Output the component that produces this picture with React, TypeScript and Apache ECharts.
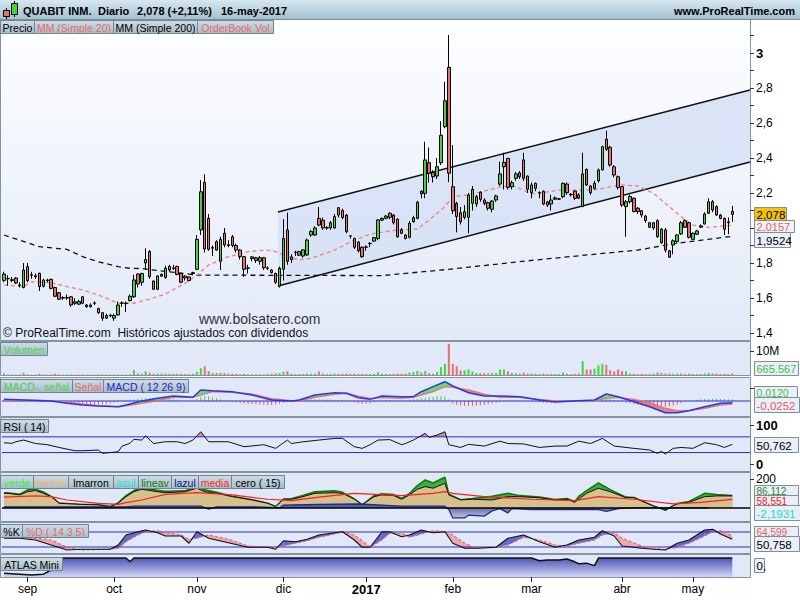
import React, { useEffect, useRef } from "react";
import * as echarts from "echarts";

// ---------- DATA ----------
// candles: [open, close, low, high], daily, 24-ago-2016 .. 16-may-2017
const candles: number[][] = [
  [1.700,1.737,1.690,1.750],[1.710,1.712,1.670,1.730],[1.700,1.705,1.690,1.720],[1.714,1.686,1.680,1.720],[1.675,1.673,1.660,1.690],[1.660,1.760,1.655,1.800],[1.779,1.700,1.690,1.800],[1.730,1.733,1.710,1.750],[1.722,1.727,1.710,1.740],[1.741,1.665,1.640,1.745],
  [1.667,1.703,1.660,1.710],[1.700,1.702,1.690,1.710],[1.707,1.655,1.650,1.710],[1.660,1.610,1.605,1.665],[1.630,1.593,1.590,1.635],[1.600,1.602,1.590,1.610],[1.600,1.603,1.590,1.620],[1.607,1.560,1.550,1.610],[1.570,1.578,1.560,1.600],[1.565,1.580,1.560,1.590],
  [1.607,1.570,1.565,1.610],[1.550,1.560,1.545,1.565],[1.560,1.550,1.545,1.570],[1.570,1.572,1.560,1.580],[1.540,1.516,1.510,1.545],[1.516,1.484,1.470,1.520],[1.485,1.500,1.480,1.510],[1.502,1.498,1.490,1.510],[1.485,1.500,1.470,1.510],[1.503,1.560,1.500,1.580],
  [1.570,1.572,1.550,1.580],[1.568,1.570,1.520,1.580],[1.585,1.610,1.580,1.620],[1.607,1.703,1.600,1.733],[1.737,1.680,1.660,1.740],[1.690,1.740,1.670,1.745],[1.800,1.820,1.760,1.884],[1.865,1.722,1.710,1.874],[1.697,1.650,1.645,1.700],[1.650,1.726,1.645,1.730],
  [1.735,1.725,1.720,1.740],[1.718,1.770,1.710,1.785],[1.780,1.760,1.750,1.790],[1.770,1.772,1.760,1.790],[1.780,1.735,1.730,1.785],[1.740,1.690,1.685,1.745],[1.715,1.725,1.700,1.730],[1.720,1.700,1.695,1.725],[1.740,1.745,1.730,1.750],[1.764,1.935,1.760,1.960],
  [1.989,2.207,1.960,2.274],[2.261,1.880,1.860,2.307],[2.055,1.878,1.870,2.080],[1.885,1.888,1.840,1.900],[1.922,1.874,1.870,1.930],[1.810,1.935,1.760,1.950],[1.970,1.903,1.890,2.000],[1.905,1.900,1.890,1.930],[1.950,1.900,1.890,1.960],[1.900,1.874,1.860,1.910],
  [1.874,1.836,1.820,1.880],[1.836,1.764,1.720,1.840],[1.770,1.772,1.740,1.790],[1.825,1.835,1.810,1.840],[1.830,1.815,1.800,1.835],[1.810,1.830,1.790,1.840],[1.830,1.773,1.760,1.835],[1.770,1.772,1.760,1.780],[1.760,1.745,1.740,1.765],[1.740,1.690,1.680,1.745],
  [1.668,1.770,1.660,1.780],[1.764,1.940,1.700,2.050],[1.989,1.810,1.790,2.087],[1.820,1.835,1.800,1.850],[1.860,1.862,1.840,1.870],[1.865,1.845,1.840,1.870],[1.840,1.875,1.830,1.880],[1.846,1.931,1.840,1.940],[1.960,1.980,1.950,1.990],[1.960,2.000,1.955,2.010],
  [2.055,2.017,2.010,2.120],[2.045,2.000,1.990,2.060],[2.000,2.002,1.990,2.010],[2.000,2.030,1.990,2.040],[2.000,2.065,1.995,2.080],[2.116,2.074,2.060,2.120],[2.100,2.060,2.050,2.110],[2.074,1.979,1.970,2.080],[1.955,1.953,1.940,1.960],[1.940,1.890,1.880,1.945],
  [1.920,1.870,1.860,1.925],[1.890,1.836,1.830,1.895],[1.890,1.892,1.870,1.900],[1.910,1.912,1.890,1.920],[1.925,1.945,1.920,1.950],[1.940,2.046,1.930,2.050],[2.045,2.055,2.040,2.060],[2.055,2.068,2.050,2.075],[2.084,2.061,2.050,2.090],[2.074,2.030,2.020,2.080],
  [2.050,1.950,1.945,2.055],[1.990,1.970,1.965,2.000],[1.960,1.940,1.935,1.965],[1.947,2.027,1.940,2.040],[2.036,2.059,2.030,2.070],[2.055,2.147,2.050,2.155],[2.210,2.196,2.170,2.215],[2.198,2.389,2.170,2.493],[2.373,2.313,2.260,2.460],[2.316,2.293,2.260,2.330],
  [2.297,2.350,2.280,2.400],[2.373,2.530,2.360,2.610],[2.579,2.727,2.570,2.836],[2.918,2.313,2.262,3.103],[2.236,2.099,2.080,2.474],[2.141,2.065,1.975,2.150],[2.087,2.036,2.020,2.120],[2.061,2.093,2.050,2.130],[2.061,2.189,1.970,2.200],[2.141,2.221,2.100,2.240],
  [2.137,2.179,2.120,2.190],[2.204,2.164,2.150,2.210],[2.160,2.141,2.130,2.170],[2.145,2.113,2.100,2.150],[2.107,2.154,2.090,2.160],[2.160,2.183,2.150,2.190],[2.251,2.309,2.240,2.379],[2.350,2.375,2.220,2.430],[2.398,2.232,2.220,2.400],[2.236,2.259,2.220,2.270],
  [2.284,2.309,2.270,2.320],[2.315,2.293,2.280,2.325],[2.389,2.284,2.270,2.430],[2.297,2.221,2.200,2.300],[2.202,2.246,2.170,2.260],[2.255,2.227,2.210,2.260],[2.200,2.202,2.170,2.210],[2.210,2.137,2.130,2.215],[2.149,2.131,2.120,2.155],[2.137,2.160,2.100,2.190],
  [2.165,2.172,2.160,2.180],[2.165,2.167,2.160,2.170],[2.179,2.255,2.170,2.260],[2.251,2.202,2.190,2.260],[2.190,2.192,2.180,2.200],[2.211,2.170,2.160,2.215],[2.190,2.170,2.165,2.200],[2.122,2.309,2.120,2.430],[2.335,2.246,2.240,2.340],[2.240,2.202,2.190,2.245],
  [2.227,2.255,2.220,2.270],[2.270,2.332,2.260,2.340],[2.332,2.465,2.330,2.470],[2.507,2.450,2.440,2.556],[2.461,2.360,2.350,2.470],[2.350,2.303,2.290,2.360],[2.293,2.232,2.220,2.300],[2.236,2.131,2.120,2.240],[2.122,2.150,1.950,2.160],[2.150,2.180,2.140,2.190],
  [2.170,2.094,2.090,2.175],[2.113,2.094,2.080,2.120],[2.099,2.074,2.060,2.100],[2.068,2.042,2.030,2.075],[2.030,2.004,2.000,2.035],[2.000,2.030,1.990,2.035],[2.042,1.950,1.945,2.050],[1.916,1.993,1.910,2.000],[1.989,1.874,1.860,2.000],[1.870,1.833,1.830,1.875],
  [1.903,1.927,1.850,1.935],[1.922,1.960,1.915,1.965],[1.966,2.030,1.960,2.040],[2.042,2.004,2.000,2.050],[2.030,1.947,1.940,2.035],[1.935,1.970,1.930,1.975],[1.964,1.983,1.960,1.990],[2.005,2.012,2.000,2.020],[2.023,2.080,2.020,2.090],[2.084,2.150,2.080,2.170],
  [2.150,2.103,2.090,2.160],[2.122,2.074,2.070,2.130],[2.074,2.055,2.050,2.080],[2.055,1.993,1.960,2.060],[2.030,2.035,1.965,2.060],[2.095,2.078,2.035,2.126],
];

// volume in millions
const volumes: number[] = [
  0.6,0.15,0.15,0.2,0.15,0.9,0.2,0.15,0.15,0.5,0.15,0.15,0.2,0.5,0.2,0.15,0.15,0.2,0.15,0.15,0.2,0.15,0.15,0.15,0.2,0.2,0.15,0.15,0.15,0.2,0.15,0.15,
  0.3,2.0,0.6,0.5,1.5,0.9,0.5,0.6,0.5,0.6,0.5,0.5,0.5,0.5,0.4,0.3,0.5,1.3,2.8,3.6,1.6,0.8,0.8,0.8,0.8,0.6,0.5,0.5,0.4,0.5,0.3,0.3,
  0.3,0.3,0.3,0.5,0.5,0.6,0.8,1.3,1.5,0.5,0.4,0.4,0.5,0.6,0.5,0.6,1.5,0.6,0.4,0.5,0.6,0.5,0.5,0.6,0.4,0.5,0.5,0.5,0.4,0.4,0.5,1.1,
  0.5,0.5,0.4,0.5,0.6,0.5,0.6,1.0,1.2,1.7,1.0,1.7,0.8,0.5,1.2,3.2,4.6,13.0,4.6,3.6,1.9,1.9,2.3,1.5,0.8,0.7,0.7,0.6,0.8,0.8,2.3,2.3,
  1.5,0.8,0.7,0.5,1.0,0.6,0.6,0.5,0.4,0.6,0.4,0.5,0.4,0.4,1.0,0.5,0.4,0.5,0.6,5.8,2.3,2.3,2.6,4.0,4.6,4.2,2.0,1.5,2.3,1.6,1.5,0.6,
  0.5,0.4,0.5,0.4,0.4,0.6,1.0,0.8,0.6,0.6,0.5,0.6,0.6,0.4,0.5,0.4,0.4,0.4,0.6,0.8,0.6,0.6,0.4,0.5,0.4,0.67,
];

// MACD histogram ("MACD-, señal")
const macdHist: number[] = [
  0.003,0.003,0.002,0,0,0.002,0.003,0.002,0,-0.002,-0.003,-0.003,
  -0.005,-0.008,-0.011,-0.014,-0.016,-0.019,-0.022,-0.024,-0.026,-0.028,-0.03,-0.031,-0.03,-0.028,-0.024,-0.018,-0.012,
  -0.006,-0.002,
  0.006,0.01,0.014,0.017,0.019,0.021,0.022,0.024,0.024,0.023,0.021,0.018,0.014,0.009,
  0.004,0.002,0,0.002,
  0.016,0.032,0.039,0.037,0.03,0.022,0.012,
  0.004,-0.003,
  -0.008,-0.012,-0.016,-0.019,-0.022,-0.024,-0.026,-0.028,-0.03,-0.031,-0.031,-0.028,-0.022,-0.014,
  -0.006,0.002,
  0.006,0.008,0.01,0.012,0.013,0.014,0.014,0.013,0.012,0.011,0.01,0.008,0.005,
  0.001,-0.006,-0.012,
  -0.018,-0.022,-0.022,-0.018,-0.01,
  -0.003,0.004,0.008,0.008,0.006,0.004,
  0.002,0.006,
  0.01,0.014,0.018,0.022,0.026,0.03,0.034,0.038,0.04,0.036,
  0.012,
  -0.02,-0.032,-0.038,-0.04,-0.04,-0.038,-0.036,-0.034,-0.03,-0.026,-0.02,-0.014,
  -0.008,-0.004,0.002,0.004,0.003,0.002,0,-0.003,-0.004,-0.006,
  -0.01,-0.014,-0.016,-0.018,-0.016,-0.014,-0.01,
  -0.006,-0.003,0,0.002,0.002,0.003,0.004,0.006,0.01,
  0.014,0.016,0.014,0.01,
  0.003,
  -0.008,-0.014,-0.02,-0.026,-0.031,-0.034,-0.037,-0.04,-0.042,-0.044,-0.045,-0.045,-0.042,-0.036,-0.028,-0.018,
  -0.008,0,0.006,
  0.01,0.014,0.016,0.018,0.018,0.017,0.016,0.015,0.013,0.012,
];

// moving averages [barIndex, value]
const ma20: number[][] = [
  [0,1.674],[5,1.665],[7,1.693],[12,1.687],[16,1.665],[20,1.646],[24,1.617],[29,1.57],[33,1.57],[37,1.593],[41,1.623],[46,1.684],[49,1.731],[52,1.789],[57,1.836],[62,1.865],[67,1.874],[69,1.865],[72,1.836],[75,1.817],[78,1.827],[84,1.874],[89,1.931],[93,1.965],[100,1.989],[105,1.994],[108,2.046],[112,2.122],[114,2.179],[118,2.189],[123,2.217],[127,2.24],[130,2.236],[134,2.194],[137,2.202],[141,2.217],[146,2.217],[151,2.221],[154,2.236],[157,2.246],[161,2.24],[165,2.198],[169,2.122],[173,2.046],[175,2.017],[179,2.004],[185,2.0157],
];
const ma200: number[][] = [
  [0,1.96],[9,1.893],[16,1.878],[20,1.836],[24,1.807],[29,1.779],[32,1.77],[35,1.768],[49,1.731],[96,1.728],[113,1.764],[135,1.817],[161,1.874],[171,1.913],[185,1.9524],
];

// regression channel [barIndex, price]
const channelUpper: number[][] = [[69.6,2.091],[189.5,2.789]];
const channelLower: number[][] = [[69.6,1.669],[189.5,2.377]];

// MACD (12 26 9)
const macdIdx = [0,12,16,20,24,29,31,35,39,43,48,50,53,58,63,68,73,75,79,84,87,90,93,96,101,104,106,109,112,114,118,122,126,131,136,140,146,150,153,156,160,164,168,171,174,178,182,185];
const macdLine = [0.013,0.0,-0.018,-0.031,-0.039,-0.045,-0.031,0.0,0.021,0.039,0.029,0.087,0.081,0.073,0.047,0.008,0.0,0.008,0.047,0.065,0.061,0.026,0.013,0.039,0.034,0.034,0.073,0.113,0.152,0.118,0.065,0.039,0.039,0.034,0.008,-0.008,0.002,0.008,0.055,0.034,-0.006,-0.045,-0.092,-0.092,-0.076,-0.045,-0.018,-0.0132];
const signalLine = [0.008,0.002,-0.008,-0.024,-0.037,-0.045,-0.039,-0.018,0.002,0.029,0.029,0.047,0.073,0.068,0.055,0.018,0.002,0.0,0.029,0.053,0.061,0.039,0.021,0.026,0.021,0.029,0.047,0.073,0.113,0.108,0.087,0.055,0.029,0.029,0.013,0.0,0.0,0.002,0.021,0.029,0.013,-0.013,-0.057,-0.076,-0.076,-0.057,-0.033,-0.0252];

// RSI (14) [barIndex, value]
const rsi: number[][] = [
  [0,55],[2,53.4],[3,57.5],[5,61.8],[8,53],[11,50],[14,43],[18,34.6],[20,34.6],[24,36.4],[25,28],[29,32],[30,46.5],[32,53.4],[33,63.6],[35,61.8],[36,72.8],[38,53],[41,57.5],[44,57.5],[46,53],[48,61.8],[50,83],[52,57.5],[57,57.5],[61,44.8],[66,50],[69,40.7],[72,61.8],[73,53],[76,57.5],[80,61.8],[84,66],[86,66],[89,44.8],[91,40.7],[93,50],[95,61.8],[98,63],[101,50],[102,53],[104,61.8],[107,78.9],[108,68.7],[110,74.5],[112,83],[113,50],[116,43],[118,50.9],[122,46.5],[126,59],[128,53],[132,52],[136,43],[140,46.5],[143,46.5],[146,59],[149,53],[152,66],[155,46.5],[160,40.7],[164,36.4],[166,28],[167,33],[168,26.3],[170,40.7],[172,43],[175,40.7],[178,55],[181,50],[183,43],[185,50.762],
];

// custom indicator: lmarron / lineav share these bars
const indIdx = [0,1,4,6,8,10,12,14,19,24,27,29,31,33,35,39,41,46,49,51,54,58,63,67,69,71,73,75,79,84,86,89,91,94,96,99,101,103,105,107,109,112,113,116,119,124,128,131,136,140,143,145,146,148,151,154,158,160,165,168,171,174,178,181,185];
const lmarron = [101,101,90,112,120,101,78,32,25,21,9,32,78,112,129,112,105,112,136,112,101,78,55,32,9,60,60,71,101,105,101,60,21,78,90,85,60,90,129,147,136,170,90,55,60,55,78,78,70,55,60,39,60,101,136,112,71,71,12,-11,28,39,78,83,83];
const lineav = [104,104,95,125,130,110,80,34,26,22,10,35,85,120,140,122,115,118,150,125,108,80,57,33,10,62,64,80,112,118,108,62,22,85,98,92,65,100,154,193,172,212,95,57,65,80,101,85,75,58,65,45,80,120,172,126,75,72,14,-16,30,45,101,92,86.112];
const media: number[][] = [
  [0,74],[8,83],[12,78],[16,55],[24,32],[29,25],[31,37],[35,55],[41,94],[49,105],[58,90],[67,60],[73,51],[80,74],[89,101],[101,85],[109,101],[112,112],[114,101],[122,78],[134,60],[145,51],[151,78],[160,60],[170,28],[177,39],[185,58.551],
];
const lazul: number[][] = [
  [0,8],[31,8],[33,12],[50,12],[52,-8],[54,8],[63,8],[66,5],[70,0],[71,20],[80,25],[90,28],[101,12],[112,12],[113,-10],[114,-69],[117,-69],[118,-50],[122,-57],[124,-20],[126,-5],[128,-34],[129,-5],[134,-11],[151,-11],[153,-23],[156,-5],[160,0],[179,0],
];

// Stochastic %K / %D (14 3 5)
const stochIdx = [0,4,8,12,16,20,27,29,31,34,36,39,41,45,47,49,52,57,62,67,69,71,74,77,80,84,86,89,91,93,96,98,101,103,106,109,112,114,117,120,125,128,132,136,140,143,146,150,152,155,157,162,165,168,171,174,178,180,182,185];
const stochK = [55,55,48,28,8,11,11,28,68,81,88,77,64,64,35,81,55,37,19,19,11,45,41,51,68,77,81,48,19,19,81,81,61,68,88,77,81,35,15,15,19,55,68,41,19,28,48,59,85,64,24,15,11,8,35,48,88,91,72,50.758];
const stochD = [59,59,55,48,19,8,12,15,41,68,81,85,77,68,51,55,68,51,24,19,19,24,35,45,59,72,81,68,45,19,48,75,75,59,72,85,81,68,35,15,19,28,59,48,28,24,35,48,68,77,55,24,15,11,19,35,64,81,85,64.599];

// ATLAS Mini
const atlas: number[][] = [
  [0,0.2],[4,0.15],[7,0.1],[10,0.15],[12,0.37],[13,0.74],[15,1],[31,1],[32,0.8],[33,1],[134,1],[136,0.86],[138,0.9],[141,0.9],[143,0.95],[145,0.8],[146,0.7],[148,0.73],[150,0.6],[151,1],[185,1],
];

// axis ticks
const monthIdx = [6,28,49,71,92,114,134,157,175];
const monthLabels = ["sep","oct","nov","dic","2017","feb","mar","abr","may"];
const priceLabels = [1.4,1.6,1.8,2.2,2.4,2.6,2.8,3];
const priceTicks = [1.4,1.5,1.6,1.7,1.8,1.9,2.0,2.1,2.2,2.3,2.4,2.5,2.6,2.7,2.8,2.9,3.0,3.1];

// ---------- LAYOUT ----------
const N_SLOTS = 190;
const FONT = "'Liberation Sans', Arial, sans-serif";
const GREEN = "#41d441";
const RED = "#e86f6f";
const panels: number[][] = [[20,320],[342,33],[378,38],[418,53],[473,48],[523,30],[555,22]];

type Poly = { pts: number[][]; color: string };
function bandPolys(xs: number[], a: number[], b: number[], up: string | null, down: string | null): Poly[] {
  const out: Poly[] = [];
  const push = (pts: number[][], pos: boolean) => {
    const c = pos ? up : down;
    if (c) out.push({ pts, color: c });
  };
  for (let k = 0; k < xs.length - 1; k++) {
    const x0 = xs[k], x1 = xs[k + 1], a0 = a[k], a1 = a[k + 1], b0 = b[k], b1 = b[k + 1];
    const d0 = a0 - b0, d1 = a1 - b1;
    if (d0 * d1 < 0) {
      const t = d0 / (d0 - d1);
      const xc = x0 + t * (x1 - x0), yc = a0 + t * (a1 - a0);
      push([[x0, a0], [xc, yc], [x0, b0]], d0 > 0);
      push([[xc, yc], [x1, a1], [x1, b1]], d1 > 0);
    } else if (d0 !== 0 || d1 !== 0) {
      push([[x0, a0], [x1, a1], [x1, b1], [x0, b0]], d0 + d1 > 0);
    }
  }
  return out;
}

function polySeries(polys: Poly[], g: number, opacity: number, z: number): any {
  return {
    type: "custom", xAxisIndex: 2 * g + 1, yAxisIndex: g, z, silent: true, clip: true,
    data: polys.map((p) => p.pts[0]),
    renderItem: (params: any, api: any) => {
      const p = polys[params.dataIndex];
      return { type: "polygon", shape: { points: p.pts.map((q) => api.coord(q)) }, style: { fill: p.color, opacity } };
    },
  };
}

function lineS(data: number[][], g: number, color: string, width: number, z: number, extra: any = {}): any {
  return { type: "line", xAxisIndex: 2 * g + 1, yAxisIndex: g, data, symbol: "none", z, silent: true,
    lineStyle: { color, width, type: extra.dash || "solid" }, areaStyle: extra.area };
}
const level = (v: number) => [[-0.5, v], [N_SLOTS - 0.5, v]];
const fmtNum = (v: number) => String(Math.round(v * 1000) / 1000).replace(".", ",");

function yAx(g: number, min: number, max: number, labels: number[], ticks: number[], formatter: any): any {
  return {
    type: "value", gridIndex: g, position: "right", min, max,
    splitLine: { show: false }, axisLine: { show: false, onZero: false },
    axisTick: { show: ticks.length > 0, customValues: ticks, length: 4, inside: false, lineStyle: { color: "#333" } },
    axisLabel: { show: labels.length > 0, customValues: labels, formatter, margin: 6, color: "#000", fontSize: 12, fontFamily: FONT,
      rich: { b: { fontWeight: "bold", fontSize: 13, fontFamily: FONT, color: "#000" } } },
  };
}

function tagGrad() {
  return new echarts.graphic.LinearGradient(0, 0, 0, 1, [{ offset: 0, color: "#cfdce4" }, { offset: 1, color: "#a8bdc9" }]);
}
function tag(x: number, y: number, w: number, h: number, text: string, color: string): any {
  return { type: "group", z: 100, silent: true, children: [
    { type: "rect", z: 100, shape: { x: x + 0.5, y: y + 0.5, width: w, height: h }, style: { fill: tagGrad(), stroke: "#6f8594", lineWidth: 1 } },
    { type: "text", z: 101, style: { x: x + w / 2 + 0.5, y: y + h / 2 + 1, text, fill: color, font: `10.5px ${FONT}`, textAlign: "center", textVerticalAlign: "middle" } },
  ] };
}
function valTag(x: number, y: number, w: number, h: number, text: string, color: string, fill: string, size = 11.5): any {
  return { type: "group", z: 100, silent: true, children: [
    { type: "rect", z: 100, shape: { x: x + 0.5, y: y + 0.5, width: w, height: h }, style: { fill, stroke: "#7e8e9c", lineWidth: 1 } },
    { type: "text", z: 101, style: { x: x + 2.5, y: y + h / 2 + 1, text, fill: color, font: `${size}px ${FONT}`, textAlign: "left", textVerticalAlign: "middle" } },
  ] };
}

function buildOption(): any {
  const cats = Array.from({ length: N_SLOTS }, (_, i) => String(i));
  const isMonth = (i: number) => monthIdx.indexOf(i) >= 0;
  const xAxis: any[] = [];
  panels.forEach((_, g) => {
    const bottom = g === panels.length - 1;
    xAxis.push({
      type: "category", gridIndex: g, data: cats, boundaryGap: true, show: bottom,
      axisLine: { show: false, onZero: false }, splitLine: { show: false },
      axisTick: { show: bottom, alignWithLabel: true, interval: (i: number) => isMonth(i), length: 5, lineStyle: { color: "#222" } },
      axisLabel: { show: bottom, interval: (i: number) => isMonth(i), margin: 6, color: "#000", fontSize: 12, fontFamily: FONT,
        formatter: (v: string) => { const k = monthIdx.indexOf(Number(v)); const t = k >= 0 ? monthLabels[k] : ""; return /\d/.test(t) ? `{b|${t}}` : t; },
        rich: { b: { fontWeight: "bold", fontSize: 13, fontFamily: FONT, color: "#000" } } },
    });
    xAxis.push({ type: "value", gridIndex: g, min: -0.5, max: N_SLOTS - 0.5, show: false, axisLine: { onZero: false } });
  });

  const yAxis = [
    yAx(0, 1.36, 3.1886, priceLabels, priceTicks, (v: number) => (v === 3 ? "{b|3}" : fmtNum(v))),
    yAx(1, 0, 13.75, [10], [10], () => "10M"),
    yAx(2, -0.118, 0.181, [], [0.1], fmtNum),
    yAx(3, -17, 118, [100, 0], [100, 0], (v: number) => `{b|${v}}`),
    yAx(4, -90, 241, [200], [200], (v: number) => String(v)),
    yAx(5, -4, 116, [], [], fmtNum),
    yAx(6, 0, 1.16, [], [], fmtNum),
  ];

  const grid = panels.map(([top, h]) => ({ left: 2, top, width: 748, height: h, show: false }));

  const rsiX = rsi.map((p) => p[0]);
  const rsiV = rsi.map((p) => p[1]);
  const macdPolys = bandPolys(macdIdx, macdLine, signalLine, "#58dd58", "#e07878");
  const rsiPolys = bandPolys(rsiX, rsiV, rsiX.map(() => 70), "#c48a8a", null);
  const stochPolys = bandPolys(stochIdx, stochK, stochD, "#5a64c2", "#eaa3ad");
  const channelPolys: Poly[] = [{ pts: [channelUpper[0], channelUpper[1], channelLower[1], channelLower[0]], color: "#d6e0f6" }];

  const upDown = (i: number) => (candles[i][1] >= candles[i][0] ? GREEN : RED);

  const series: any[] = [
    // main
    polySeries(channelPolys, 0, 0.85, 1),
    lineS(channelUpper, 0, "#111", 1.5, 3),
    lineS(channelLower, 0, "#111", 1.5, 3),
    lineS(ma200, 0, "#111", 1.3, 3, { dash: [5, 4] }),
    lineS(ma20, 0, "#ee7f7f", 1.3, 3, { dash: [4, 3] }),
    {
      type: "candlestick", xAxisIndex: 0, yAxisIndex: 0, data: candles, barWidth: 3, z: 5, silent: true,
      itemStyle: { color: GREEN, color0: RED, borderColor: "#000", borderColor0: "#000", borderWidth: 1 },
    },
    // volume
    {
      type: "bar", xAxisIndex: 2, yAxisIndex: 1, barWidth: 2, z: 3, silent: true,
      data: volumes.map((v, i) => ({ value: v, itemStyle: { color: upDown(i) } })),
    },
    // MACD
    polySeries(macdPolys, 2, 0.9, 2),
    {
      type: "bar", xAxisIndex: 4, yAxisIndex: 2, barWidth: 1, z: 3, silent: true,
      data: macdHist.map((v) => ({ value: v, itemStyle: { color: v >= 0 ? "#44cc44" : "#ee5a5a" } })),
    },
    lineS(level(0), 2, "#2b2bd6", 1, 3),
    lineS(macdIdx.map((x, k) => [x, signalLine[k]]), 2, "#ee7070", 1.3, 4),
    lineS(macdIdx.map((x, k) => [x, macdLine[k]]), 2, "#2a36e8", 1.5, 5),
    // RSI
    polySeries(rsiPolys, 3, 0.95, 2),
    lineS(level(70), 3, "#2b2bd6", 1, 3),
    lineS(level(30), 3, "#2b2bd6", 1, 3),
    lineS(rsi, 3, "#111", 1, 4),
    // custom indicator
    lineS(indIdx.map((x, k) => [x, lineav[k]]), 4, "#0b7a0b", 1.5, 2, { area: { color: "#3fae3f", opacity: 1 } }),
    lineS(indIdx.map((x, k) => [x, lmarron[k]]), 4, "#111", 1, 3, { area: { color: "#d8c08c", opacity: 1 } }),
    lineS(lazul, 4, "#1a2a8c", 1.3, 3, { area: { color: new echarts.graphic.LinearGradient(0, 0, 0, 1, [{ offset: 0, color: "#3b4aa2" }, { offset: 1, color: "#c2c6d6" }]), opacity: 1 } }),
    lineS(media, 4, "#ff1e1e", 1.2, 5),
    lineS(level(0), 4, "#000", 1.5, 6),
    // stochastic
    polySeries(stochPolys, 5, 0.95, 2),
    lineS(level(80), 5, "#2b2bd6", 1, 3),
    lineS(level(20), 5, "#2b2bd6", 1, 3),
    lineS(stochIdx.map((x, k) => [x, stochD[k]]), 5, "#e66a6a", 1.2, 4, { dash: [3, 2] }),
    lineS(stochIdx.map((x, k) => [x, stochK[k]]), 5, "#111", 1.1, 5),
    // ATLAS mini
    lineS(atlas, 6, "#111", 1.5, 3, { area: { color: new echarts.graphic.LinearGradient(0, 0, 0, 1, [{ offset: 0, color: "#4f55b5" }, { offset: 1, color: "#d2d6f5" }]), opacity: 1 } }),
  ];

  const graphic: any[] = [];
  // header
  graphic.push({ type: "rect", z: 0, silent: true, shape: { x: 0, y: 0, width: 800, height: 19 },
    style: { fill: new echarts.graphic.LinearGradient(0, 0, 0, 1, [{ offset: 0, color: "#d6e7ee" }, { offset: 1, color: "#a4c1cf" }]) } });
  graphic.push({ type: "line", z: 1, silent: true, shape: { x1: 0, y1: 19.5, x2: 800, y2: 19.5 }, style: { stroke: "#7b8f9b", lineWidth: 1 } });
  // header icon
  graphic.push({ type: "line", z: 2, silent: true, shape: { x1: 6.5, y1: 8, x2: 6.5, y2: 19 }, style: { stroke: "#000", lineWidth: 1 } });
  graphic.push({ type: "rect", z: 3, silent: true, shape: { x: 3.5, y: 10.5, width: 6, height: 6 }, style: { fill: RED, stroke: "#000", lineWidth: 1 } });
  graphic.push({ type: "line", z: 2, silent: true, shape: { x1: 14.5, y1: 1, x2: 14.5, y2: 17 }, style: { stroke: "#000", lineWidth: 1 } });
  graphic.push({ type: "rect", z: 3, silent: true, shape: { x: 11.5, y: 3.5, width: 6, height: 11 }, style: { fill: GREEN, stroke: "#000", lineWidth: 1 } });
  const hText = (x: number, text: string, align = "left") => ({ type: "text", z: 5, silent: true,
    style: { x, y: 11, text, fill: "#000", font: `bold 11px ${FONT}`, textAlign: align, textVerticalAlign: "middle" } });
  graphic.push(hText(23, "QUABIT INM."), hText(98, "Diario"), hText(137, "2,078 (+2,11%)"), hText(221, "16-may-2017"), hText(795, "www.ProRealTime.com", "right"));

  // panel backgrounds
  panels.forEach(([top, h], g) => {
    const fill = g === 0
      ? new echarts.graphic.LinearGradient(0, 0, 0, 1, [{ offset: 0, color: "#fdfeff" }, { offset: 1, color: "#e2e9f7" }])
      : "#e1e8f8";
    graphic.push({ type: "rect", z: 0, silent: true, shape: { x: 0.5, y: top - 0.5, width: 750, height: h + 1 }, style: { fill, stroke: "#8593a1", lineWidth: 1 } });
  });

  // legend tags
  graphic.push(
    tag(0, 20, 34, 13, "Precio", "#000"),
    tag(34, 20, 79, 13, "MM (Simple 20)", "#e86a6a"),
    tag(113, 20, 84, 13, "MM (Simple 200)", "#000"),
    tag(197, 20, 76, 13, "OrderBook Vol", "#e86a6a"),
    tag(0, 342, 47, 13, "Volumen", "#4ccf4c"),
    tag(0, 379, 72, 13, "MACD-, señal", "#4ccf4c"),
    tag(72, 379, 31, 13, "Señal", "#e86a6a"),
    tag(103, 379, 85, 13, "MACD ( 12 26 9)", "#2222c8"),
    tag(0, 419, 48, 13, "RSI ( 14)", "#000"),
    tag(0, 475, 33, 13, "verde", "#3ee83e"),
    tag(33, 475, 35, 13, "marron", "#f2b26e"),
    tag(68, 475, 45, 13, "lmarron", "#000"),
    tag(113, 475, 25, 13, "azul", "#1ae0e0"),
    tag(138, 475, 33, 13, "lineav", "#0b7a0b"),
    tag(171, 475, 27, 13, "lazul", "#10107a"),
    tag(198, 475, 33, 13, "media", "#ff1e1e"),
    tag(231, 475, 53, 13, "cero ( 15)", "#000"),
    tag(0, 524, 22, 13, "%K", "#000"),
    tag(22, 524, 66, 13, "%D ( 14 3 5)", "#e86a6a"),
    tag(0, 557, 62, 13, "ATLAS Mini", "#000"),
  );

  // watermark texts
  graphic.push({ type: "text", z: 50, silent: true, style: { x: 199, y: 318.5, text: "www.bolsatero.com", fill: "#333", font: `14px ${FONT}`, textAlign: "left", textVerticalAlign: "middle" } });
  graphic.push({ type: "text", z: 50, silent: true, style: { x: 3, y: 333, text: "© ProRealTime.com  Históricos ajustados con dividendos", fill: "#111", font: `12px ${FONT}`, textAlign: "left", textVerticalAlign: "middle" } });

  // right value tags (stacked so they touch without covering each other)
  graphic.push(
    valTag(754, 207, 32, 13, "2,078", "#000", "#f4c300"),
    valTag(754, 220, 40, 12, "2,0157", "#e86060", "#eef2f8", 11),
    valTag(754, 232, 36, 15, "1,9524", "#000", "#e9eef7"),
    valTag(754, 361, 44, 14, "665.567", "#3fc03f", "#e9eef7", 11),
    valTag(754, 386, 43, 11, "0,0120", "#3fc03f", "#e9eef7", 10.5),
    valTag(754, 397, 45, 15, "-0,0252", "#e86060", "#e9eef7"),
    valTag(754, 437, 44, 15, "50,762", "#000", "#e9eef7"),
    valTag(754, 485, 44, 10, "86,112", "#1f8c1f", "#e9eef7", 10),
    valTag(754, 495, 44, 10, "58,551", "#f22020", "#e9eef7", 10),
    valTag(754, 505, 46, 15, "-2,1931", "#10dede", "#e9eef7"),
    valTag(754, 526, 44, 10, "64,599", "#e86060", "#e9eef7", 10),
    valTag(754, 536, 45, 15, "50,758", "#000", "#e9eef7"),
    valTag(754, 558, 10, 14, "0,", "#000", "#e9eef7"),
  );

  return { animation: false, backgroundColor: "#ffffff", grid, xAxis, yAxis, series, graphic };
}

export default function App() {
  const ref = useRef<HTMLDivElement>(null);
  useEffect(() => {
    const chart = echarts.init(ref.current as HTMLDivElement, null, { renderer: "svg" });
    chart.setOption(buildOption());
    return () => chart.dispose();
  }, []);
  return <div ref={ref} style={{ position: "absolute", left: 0, top: 0, width: 800, height: 600 }} />;
}
